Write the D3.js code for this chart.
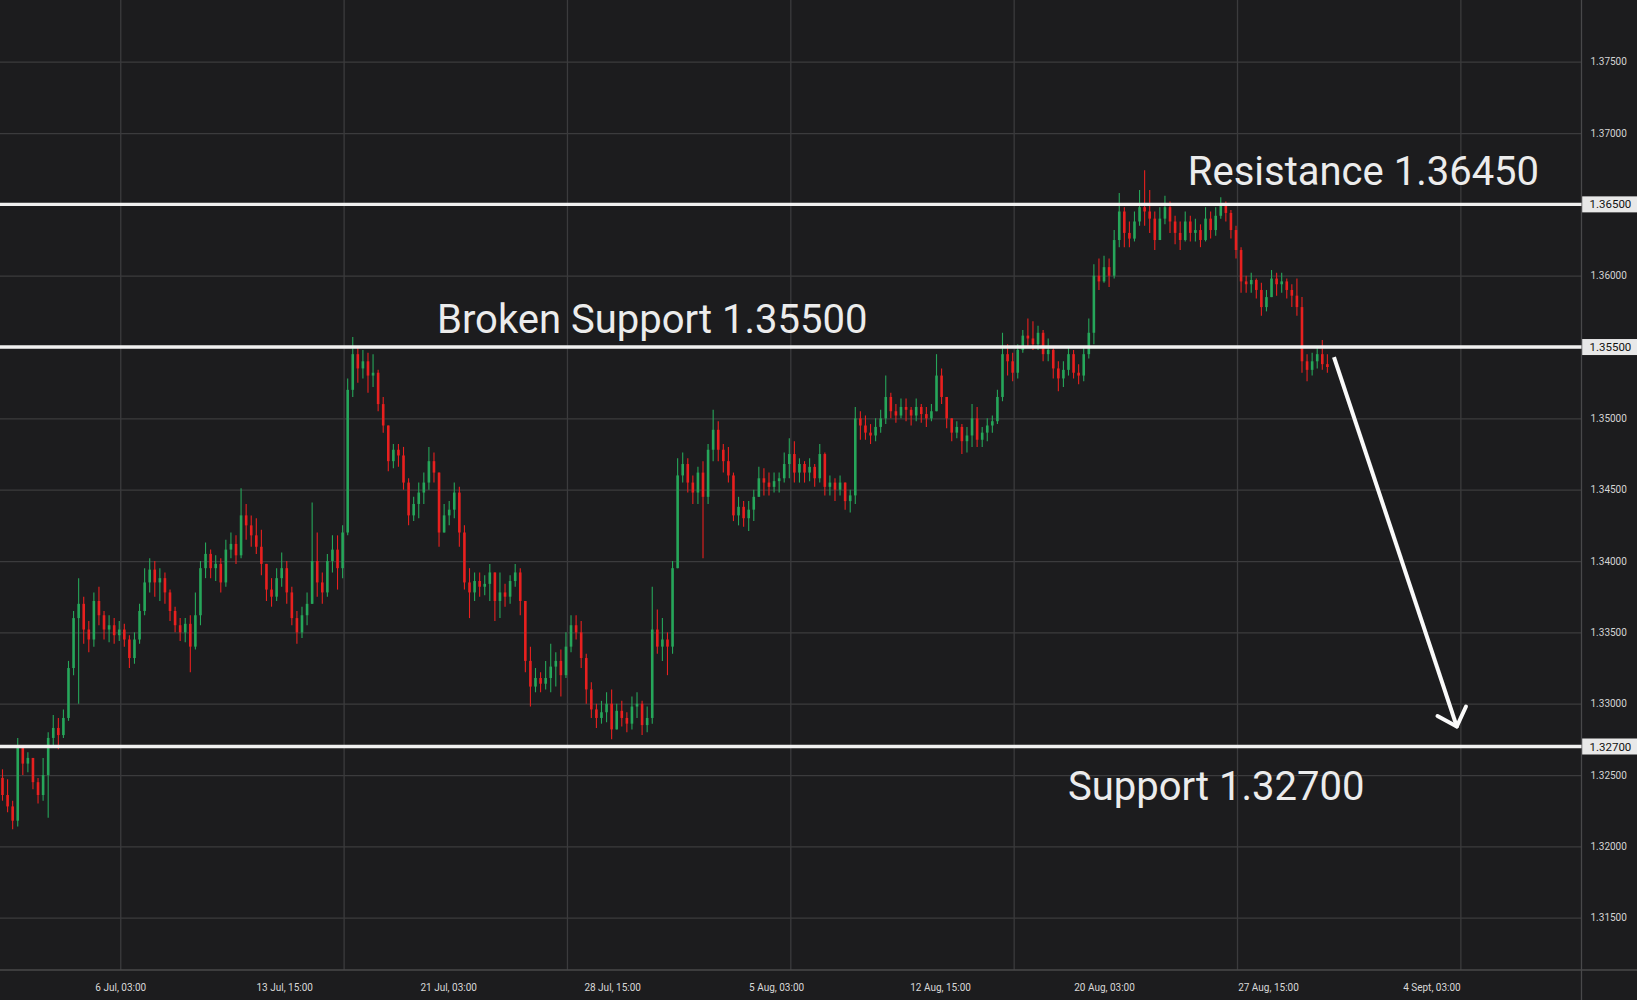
<!DOCTYPE html>
<html><head><meta charset="utf-8">
<script src="https://cdn.jsdelivr.net/npm/d3@7"></script>
<style>html,body{margin:0;padding:0;background:#1c1c1e;overflow:hidden}</style>
</head><body>
<svg id="chart" width="1637" height="1000"></svg>
<script>
// ---- data (3-hour candles, open = previous close) ----
const firstOpen = 1.3248;
const closes = [
1.3236,1.3228,1.3218,1.3270,1.3258,1.3262,1.3245,1.3236,1.3250,1.3276,
1.3283,1.3278,1.3290,1.3325,1.3360,1.3370,1.3352,1.3345,1.3372,1.3362,
1.3352,1.3355,1.3348,1.3352,1.3345,1.3332,1.3345,1.3365,1.3385,1.3394,
1.3385,1.3388,1.3378,1.3365,1.3355,1.3350,1.3356,1.3340,1.3362,1.3395,
1.3405,1.3395,1.3398,1.3385,1.3408,1.3412,1.3404,1.3432,1.3425,1.3418,
1.3410,1.3398,1.3380,1.3375,1.3388,1.3395,1.3378,1.3360,1.3350,1.3362,
1.3370,1.3400,1.3385,1.3378,1.3400,1.3408,1.3395,1.3420,1.3520,1.3545,
1.3535,1.3540,1.3530,1.3532,1.3510,1.3495,1.3470,1.3478,1.3474,1.3455,
1.3432,1.3440,1.3448,1.3455,1.3470,1.3462,1.3420,1.3432,1.3436,1.3448,
1.3420,1.3385,1.3378,1.3386,1.3382,1.3384,1.3392,1.3372,1.3378,1.3375,
1.3386,1.3392,1.3372,1.3330,1.3312,1.3318,1.3314,1.3318,1.3326,1.3330,
1.3320,1.3340,1.3355,1.3350,1.3332,1.3310,1.3296,1.3290,1.3294,1.3300,
1.3282,1.3295,1.3290,1.3286,1.3298,1.3300,1.3285,1.3290,1.3352,1.3340,
1.3345,1.3340,1.3395,1.3460,1.3468,1.3455,1.3448,1.3462,1.3445,1.3478,
1.3492,1.3478,1.3470,1.3460,1.3432,1.3438,1.3430,1.3436,1.3445,1.3458,
1.3455,1.3452,1.3456,1.3458,1.3468,1.3475,1.3462,1.3468,1.3462,1.3466,
1.3458,1.3475,1.3452,1.3455,1.3450,1.3455,1.3442,1.3446,1.3500,1.3495,
1.3490,1.3488,1.3494,1.3500,1.3515,1.3505,1.3502,1.3508,1.3506,1.3502,
1.3508,1.3503,1.3500,1.3505,1.3530,1.3515,1.3500,1.3490,1.3494,1.3484,
1.3488,1.3500,1.3485,1.3490,1.3495,1.3498,1.3515,1.3545,1.3540,1.3532,
1.3548,1.3558,1.3556,1.3552,1.3560,1.3545,1.3548,1.3535,1.3528,1.3534,
1.3545,1.3532,1.3530,1.3545,1.3560,1.3600,1.3596,1.3606,1.3600,1.3625,
1.3645,1.3630,1.3626,1.3638,1.3648,1.3645,1.3640,1.3625,1.3640,1.3648,
1.3638,1.3630,1.3625,1.3638,1.3630,1.3632,1.3625,1.3640,1.3632,1.3642,
1.3650,1.3644,1.3632,1.3618,1.3596,1.3594,1.3597,1.3590,1.3578,1.3585,
1.3598,1.3594,1.3596,1.3590,1.3586,1.3578,1.3540,1.3534,1.3540,1.3545,
1.3538,1.3536];
const highs = [
1.3254,1.3247,1.3232,1.3276,1.3268,1.3266,1.3262,1.3248,1.3262,1.3280,
1.3292,1.3290,1.3296,1.3330,1.3365,1.3388,1.3375,1.3358,1.3378,1.3382,
1.3365,1.3362,1.3360,1.3358,1.3356,1.3348,1.3350,1.3370,1.3395,1.3402,
1.3400,1.3395,1.3392,1.3380,1.3368,1.3360,1.3360,1.3362,1.3378,1.3400,
1.3413,1.3408,1.3404,1.3402,1.3415,1.3420,1.3418,1.3451,1.3440,1.3432,
1.3430,1.3422,1.3398,1.3388,1.3395,1.3406,1.3400,1.3382,1.3365,1.3368,
1.3378,1.3441,1.3420,1.3392,1.3405,1.3418,1.3418,1.3425,1.3528,1.3557,
1.3550,1.3548,1.3546,1.3545,1.3534,1.3515,1.3495,1.3482,1.3482,1.3480,
1.3458,1.3445,1.3455,1.3462,1.3480,1.3476,1.3462,1.3440,1.3442,1.3455,
1.3452,1.3425,1.3395,1.3392,1.3392,1.3390,1.3398,1.3388,1.3392,1.3384,
1.3390,1.3398,1.3395,1.3372,1.3340,1.3325,1.3322,1.3330,1.3342,1.3336,
1.3338,1.3350,1.3362,1.3362,1.3358,1.3335,1.3315,1.3300,1.3302,1.3308,
1.3310,1.3300,1.3302,1.3294,1.3305,1.3308,1.3302,1.3298,1.3382,1.3366,
1.3360,1.3350,1.3400,1.3472,1.3476,1.3472,1.3460,1.3466,1.3470,1.3482,
1.3506,1.3498,1.3482,1.3480,1.3462,1.3445,1.3442,1.3442,1.3450,1.3466,
1.3465,1.3462,1.3462,1.3462,1.3476,1.3486,1.3484,1.3472,1.3470,1.3472,
1.3468,1.3482,1.3476,1.3460,1.3458,1.3460,1.3455,1.3450,1.3508,1.3505,
1.3502,1.3496,1.3500,1.3506,1.3530,1.3518,1.3510,1.3514,1.3514,1.3508,
1.3514,1.3510,1.3508,1.3510,1.3545,1.3535,1.3512,1.3500,1.3498,1.3496,
1.3494,1.3510,1.3508,1.3494,1.3500,1.3502,1.3520,1.3560,1.3552,1.3546,
1.3552,1.3562,1.3570,1.3568,1.3565,1.3562,1.3556,1.3550,1.3540,1.3540,
1.3550,1.3548,1.3538,1.3550,1.3570,1.3608,1.3612,1.3614,1.3612,1.3632,
1.3658,1.3648,1.3638,1.3645,1.3660,1.3674,1.3660,1.3645,1.3648,1.3656,
1.3652,1.3642,1.3638,1.3645,1.3642,1.3640,1.3636,1.3648,1.3645,1.3648,
1.3655,1.3652,1.3646,1.3635,1.3620,1.3600,1.3602,1.3598,1.3595,1.3590,
1.3604,1.3602,1.3602,1.3598,1.3594,1.3598,1.3585,1.3545,1.3546,1.3550,
1.3555,1.3545];
const lows = [
1.3232,1.3224,1.3212,1.3214,1.3250,1.3252,1.3240,1.3230,1.3232,1.3220,
1.3270,1.3268,1.3276,1.3288,1.3320,1.3300,1.3342,1.3336,1.3340,1.3355,
1.3345,1.3343,1.3342,1.3344,1.3340,1.3325,1.3328,1.3342,1.3362,1.3378,
1.3375,1.3372,1.3370,1.3358,1.3350,1.3344,1.3343,1.3322,1.3338,1.3355,
1.3388,1.3388,1.3386,1.3378,1.3382,1.3402,1.3398,1.3402,1.3415,1.3410,
1.3405,1.3390,1.3372,1.3368,1.3372,1.3382,1.3370,1.3355,1.3342,1.3346,
1.3355,1.3370,1.3375,1.3370,1.3375,1.3392,1.3380,1.3388,1.3418,1.3515,
1.3525,1.3528,1.3518,1.3522,1.3505,1.3490,1.3463,1.3465,1.3466,1.3450,
1.3425,1.3428,1.3430,1.3440,1.3450,1.3455,1.3410,1.3420,1.3425,1.3430,
1.3410,1.3380,1.3360,1.3372,1.3375,1.3376,1.3372,1.3358,1.3360,1.3368,
1.3370,1.3382,1.3362,1.3322,1.3298,1.3308,1.3308,1.3310,1.3308,1.3312,
1.3305,1.3318,1.3336,1.3345,1.3325,1.3300,1.3290,1.3283,1.3286,1.3287,
1.3275,1.3282,1.3284,1.3280,1.3282,1.3290,1.3278,1.3280,1.3286,1.3335,
1.3330,1.3320,1.3335,1.3395,1.3455,1.3448,1.3440,1.3440,1.3402,1.3440,
1.3470,1.3470,1.3462,1.3455,1.3428,1.3425,1.3424,1.3421,1.3428,1.3445,
1.3446,1.3446,1.3448,1.3448,1.3455,1.3458,1.3455,1.3455,1.3455,1.3456,
1.3452,1.3455,1.3446,1.3446,1.3442,1.3446,1.3436,1.3434,1.3440,1.3485,
1.3485,1.3482,1.3484,1.3490,1.3496,1.3500,1.3497,1.3500,1.3498,1.3495,
1.3498,1.3497,1.3494,1.3498,1.3505,1.3510,1.3493,1.3484,1.3486,1.3475,
1.3476,1.3480,1.3480,1.3480,1.3484,1.3490,1.3496,1.3512,1.3530,1.3526,
1.3528,1.3546,1.3550,1.3548,1.3548,1.3540,1.3540,1.3528,1.3519,1.3522,
1.3530,1.3528,1.3524,1.3526,1.3542,1.3552,1.3590,1.3595,1.3592,1.3598,
1.3620,1.3620,1.3620,1.3624,1.3635,1.3635,1.3630,1.3618,1.3625,1.3636,
1.3630,1.3622,1.3618,1.3624,1.3624,1.3624,1.3620,1.3624,1.3626,1.3628,
1.3640,1.3638,1.3626,1.3612,1.3588,1.3588,1.3588,1.3584,1.3572,1.3575,
1.3585,1.3586,1.3588,1.3584,1.3578,1.3572,1.3532,1.3526,1.3530,1.3535,
1.3534,1.3532];

const priceTicks = [1.315,1.320,1.325,1.330,1.335,1.340,1.345,1.350,1.355,1.360,1.365,1.370,1.375];
const levels = [1.365, 1.355, 1.327];
const gridIdx = [23.2, 67.2, 111.2, 155.2, 199.2, 243.2, 287.2];
const dateLabels = ["6 Jul, 03:00","13 Jul, 15:00","21 Jul, 03:00","28 Jul, 15:00","5 Aug, 03:00","12 Aug, 15:00","20 Aug, 03:00","27 Aug, 15:00","4 Sept, 03:00"];
const dateIdx = [23.2, 55.5, 87.8, 120.1, 152.4, 184.7, 217.0, 249.3, 281.5];
const notes = [
  {text:"Resistance 1.36450", k:233.5, level:1.365, dy:-19},
  {text:"Broken Support 1.35500", k:85.6, level:1.355, dy:-14},
  {text:"Support 1.32700", k:209.9, level:1.327, dy:53}
];
const arrowPts = [[262.3, 1.3543], [286.5, 1.3284]];

// ---- layout ----
const W = 1637, H = 1000, plotR = 1581.5, plotB = 970;
const svg = d3.select("#chart");
const x = d3.scaleLinear().domain([0, 44]).range([2.5, 225.85]);
const y = d3.scaleLinear().domain([1.315, 1.375]).range([917.7, 61.7]);
const font = "Roboto, 'Noto Sans', sans-serif";
const fmt = d3.format(".5f");

svg.append("rect").attr("width", W).attr("height", H).attr("fill", "#1c1c1e");

// horizontal grid
const gy = svg.append("g").attr("transform", `translate(${plotR},0)`)
  .call(d3.axisLeft(y).tickValues(priceTicks).tickSize(plotR).tickFormat(""));
gy.select(".domain").remove();
gy.selectAll("line").attr("stroke", "#3b3b3d").attr("stroke-width", 1.3);

// vertical grid
const gx = svg.append("g").attr("transform", `translate(0,${plotB})`)
  .call(d3.axisTop(x).tickValues(gridIdx).tickSize(plotB).tickFormat(""));
gx.select(".domain").remove();
gx.selectAll("line").attr("stroke", "#3b3b3d").attr("stroke-width", 1.3);

// axis frame lines
svg.append("line").attr("x1", plotR).attr("x2", plotR).attr("y1", 0).attr("y2", H)
  .attr("stroke", "#48484a").attr("stroke-width", 1.3);
svg.append("line").attr("x1", 0).attr("x2", W).attr("y1", plotB).attr("y2", plotB)
  .attr("stroke", "#48484a").attr("stroke-width", 1.3);

// price axis labels (ticks hidden under a level tag are not drawn)
const labelTicks = priceTicks.filter(t => !levels.some(l => Math.abs(y(l) - y(t)) < 14));
const ya = svg.append("g").attr("transform", `translate(${plotR},0)`)
  .call(d3.axisRight(y).tickValues(labelTicks).tickSize(0).tickPadding(9).tickFormat(fmt));
ya.select(".domain").remove();
ya.selectAll("text").attr("fill", "#d4d4d4").style("font-family", font).style("font-size", "10px");

// date axis labels
const xa = svg.append("g").attr("transform", `translate(0,${plotB})`)
  .call(d3.axisBottom(x).tickValues(dateIdx).tickSize(0).tickPadding(14).tickFormat((d, i) => dateLabels[i]));
xa.select(".domain").remove();
xa.selectAll("text").attr("fill", "#d8d8d8").style("font-family", font).style("font-size", "10px");

// candles
const candles = closes.map((c, i) => {
  const o = i === 0 ? firstOpen : closes[i - 1];
  return {i, o, c, h: Math.max(highs[i], o, c), l: Math.min(lows[i], o, c)};
});
const up = "#26a65a", down = "#e8201f";
const cg = svg.append("g");
const cs = cg.selectAll("g").data(candles).join("g");
cs.append("line")
  .attr("x1", d => x(d.i)).attr("x2", d => x(d.i))
  .attr("y1", d => y(d.h)).attr("y2", d => y(d.l))
  .attr("stroke", d => d.c >= d.o ? up : down).attr("stroke-width", 1.1);
cs.append("rect")
  .attr("x", d => x(d.i) - 1.3).attr("width", 2.6)
  .attr("y", d => y(Math.max(d.o, d.c)))
  .attr("height", d => Math.max(1, Math.abs(y(d.o) - y(d.c))))
  .attr("fill", d => d.c >= d.o ? up : down);

// level lines and axis tags
levels.forEach(lv => {
  svg.append("line").attr("x1", 0).attr("x2", plotR).attr("y1", y(lv)).attr("y2", y(lv))
    .attr("stroke", "#f0f0f0").attr("stroke-width", 3.4);
  svg.append("rect").attr("x", plotR + 0.7).attr("y", y(lv) - 8).attr("width", W - plotR).attr("height", 16)
    .attr("fill", "#e8e8e8");
  svg.append("text").attr("x", plotR + 8).attr("y", y(lv)).attr("dy", "0.35em")
    .attr("fill", "#111").style("font-family", font).style("font-size", "11.5px")
    .text(fmt(lv));
});

// annotations
svg.append("g").selectAll("text").data(notes).join("text")
  .attr("x", d => x(d.k)).attr("y", d => y(d.level) + d.dy)
  .attr("fill", "#ececec").style("font-family", font).style("font-size", "40px")
  .text(d => d.text);

// arrow
const [p0, p1] = arrowPts.map(([k, p]) => [x(k), y(p)]);
svg.append("line").attr("x1", p0[0]).attr("y1", p0[1]).attr("x2", p1[0]).attr("y2", p1[1])
  .attr("stroke", "#fafafa").attr("stroke-width", 4);
const ang = Math.atan2(p0[1] - p1[1], p0[0] - p1[0]);
const headLen = 22, spread = 43 * Math.PI / 180;
[-spread, spread].forEach(s => {
  svg.append("line").attr("x1", p1[0]).attr("y1", p1[1])
    .attr("x2", p1[0] + headLen * Math.cos(ang + s)).attr("y2", p1[1] + headLen * Math.sin(ang + s))
    .attr("stroke", "#fafafa").attr("stroke-width", 4).attr("stroke-linecap", "round");
});
</script>
</body></html>
